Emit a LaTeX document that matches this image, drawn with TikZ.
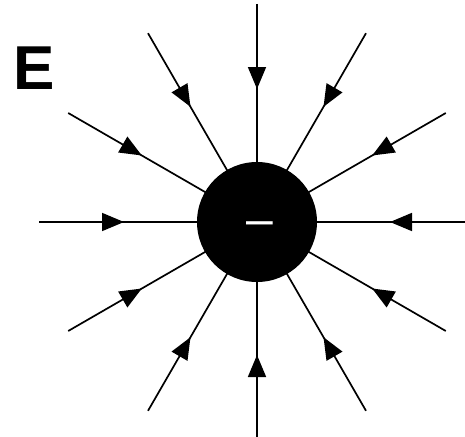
\documentclass[tikz,border=0pt]{standalone}
\usepackage{fontspec}
\setmainfont{Liberation Sans}
\usetikzlibrary{arrows.meta,decorations.markings,calc}
\begin{document}
\begin{tikzpicture}[x=1pt,y=-1pt,
  fieldline/.style={line width=1.7pt, postaction={decorate},
    decoration={markings, mark=at position 85pt with {\arrow{Triangle[length=22pt,width=18pt]}}}},
  charge/.style={circle, fill=black, minimum size=120pt, inner sep=0pt}]
\useasboundingbox (0,0) rectangle (465,436);
\coordinate (c) at (257,222);
\foreach \a in {0,30,...,330} {
  \coordinate (o\a) at ($(c)+(\a:218)$);
  \draw[fieldline] (o\a) -- (c);
}
\node[charge] (q) at (c) {};
\node[anchor=base, text=white, font=\fontsize{48}{48}\selectfont, inner sep=0pt] (m) at (259.5,235) {–};
\node[font=\bfseries\fontsize{62}{62}\selectfont, inner sep=0pt] (E) at (34.5,68) {E};
\end{tikzpicture}
\end{document}
